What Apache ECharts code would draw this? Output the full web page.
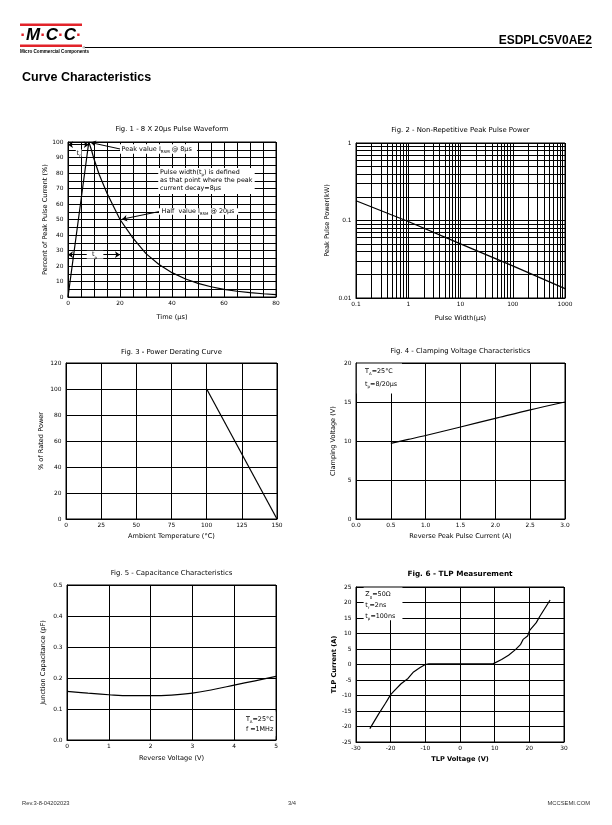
<!DOCTYPE html>
<html><head><meta charset="utf-8">
<script src="https://cdn.jsdelivr.net/npm/echarts@6/dist/echarts.min.js"></script>
<style>html,body{margin:0;padding:0;background:#fff}#c{width:612px;height:825px}</style>
</head><body><div id="c"></div>
<script>
// ---------- data ----------
const fig1Time = [0, 8, 9, 10, 12, 15, 20, 25, 30, 35, 40, 45, 50, 55, 60, 65, 70, 75, 80];
const fig1Pct  = [0, 100, 95, 89, 79, 67, 50, 38, 28, 21, 15.7, 11.8, 8.8, 6.6, 4.9, 3.7, 2.8, 2.1, 1.5];

const fig2Width = [0.1, 1, 10, 100, 1000];
const fig2Power = [0.18, 0.097, 0.05, 0.026, 0.0132];
const fig2XDecades = [0.1, 1, 10, 100];
const fig2YDecades = [0.01, 0.1];

const fig3Temp = [100, 150];
const fig3Pct  = [100, 0];

const fig4Current = [0.5, 0.75, 1.0, 1.5, 2.0, 2.5, 3.0];
const fig4Voltage = [9.7, 10.2, 10.7, 11.8, 12.9, 14.0, 15.0];

const fig5Voltage = [0, 0.5, 1, 1.5, 2, 2.5, 3, 3.5, 4, 4.5, 5];
const fig5Cap     = [0.157, 0.151, 0.146, 0.143, 0.143, 0.145, 0.151, 0.163, 0.177, 0.191, 0.205];

const fig6Voltage = [-26, -23.5, -21.5, -20, -19, -17, -15, -13.4, -11.5, -10, -9, 0, 9.5, 10, 12, 14, 16, 17.5, 18.2, 19.5, 20.1, 22, 23, 26];
const fig6Current = [-20.7, -16, -12.5, -9.7, -8.5, -6.2, -4.5, -2.4, -1, 0, 0.2, 0.2, 0.2, 0.6, 1.6, 3, 4.8, 6.5, 8.1, 9.2, 11, 13.5, 15.5, 20.8];

const titles = [
  'Fig. 1 - 8 X 20\u00b5s Pulse Waveform',
  'Fig. 2 - Non-Repetitive Peak Pulse Power',
  'Fig. 3 - Power Derating Curve',
  'Fig. 4 - Clamping Voltage Characteristics',
  'Fig. 5 - Capacitance Characteristics',
  'Fig. 6 - TLP Measurement'
];
const xNames = ['Time (\u00b5s)', 'Pulse Width(\u00b5s)', 'Ambient Temperature (\u00b0C)', 'Reverse Peak Pulse Current (A)', 'Reverse Voltage (V)', 'TLP Voltage (V)'];
const yNames = ['Percent of Peak Pulse Current (%)', 'Peak Pulse Power(kW)', '% of Rated Power', 'Clamping Voltage (V)', 'Junction Capacitance (pF)', 'TLP Current (A)'];

// ---------- layout ----------
const grids = [
  {left: 68, top: 142, width: 208, height: 155},
  {left: 356, top: 143, width: 209, height: 155},
  {left: 66, top: 363, width: 211, height: 156},
  {left: 356, top: 363, width: 209, height: 156},
  {left: 67, top: 585, width: 209, height: 155},
  {left: 356, top: 587, width: 208, height: 155}
];
const titleY = [129, 130, 352, 351, 573, 574];
const xGap = [16.5, 16.5, 14, 14, 14.5, 14];
const yGap = [19.5, 25, 21.5, 19, 20.5, 18];

const F = 'DejaVu Sans';
const zip = (a, b) => a.map((v, i) => [v, b[i]]);
function merge(a, b) {
  const o = Object.assign({}, a);
  for (const k in b) {
    if (b[k] && typeof b[k] === 'object' && !Array.isArray(b[k]) && a[k] && typeof a[k] === 'object') o[k] = merge(a[k], b[k]);
    else o[k] = b[k];
  }
  return o;
}
const black = {color: '#000', width: 1};
function axis(i, dim, extra) {
  const isX = dim === 'x';
  return merge({
    gridIndex: i, type: 'value',
    axisLine: {show: true, onZero: false, lineStyle: black},
    axisTick: {show: false},
    splitLine: {show: true, lineStyle: black},
    axisLabel: {color: '#000', fontFamily: F, fontSize: 5.9, margin: isX ? 3 : 4.5},
    name: isX ? xNames[i] : yNames[i],
    nameLocation: 'middle',
    nameGap: isX ? xGap[i] : yGap[i],
    nameTextStyle: {color: '#000', fontFamily: F, fontSize: 6.6, fontWeight: i === 5 ? 'bold' : 'normal'}
  }, extra || {});
}
const logFmt = v => String(parseFloat((+v).toPrecision(3)));

const xAxes = [
  axis(0, 'x', {min: 0, max: 80, interval: 5, axisLabel: {formatter: v => (v % 20 === 0 ? String(v) : '')}}),
  axis(1, 'x', {type: 'log', logBase: 10, min: 0.1, max: 1000, axisLabel: {formatter: logFmt}}),
  axis(2, 'x', {min: 0, max: 150, interval: 25}),
  axis(3, 'x', {min: 0, max: 3, interval: 0.5, axisLabel: {formatter: v => v.toFixed(1)}}),
  axis(4, 'x', {min: 0, max: 5, interval: 1}),
  axis(5, 'x', {min: -30, max: 30, interval: 10})
];
const yAxes = [
  axis(0, 'y', {min: 0, max: 100, interval: 5, axisLabel: {formatter: v => (v % 10 === 0 ? String(v) : '')}}),
  axis(1, 'y', {type: 'log', logBase: 10, min: 0.01, max: 1, axisLabel: {formatter: logFmt}}),
  axis(2, 'y', {min: 0, max: 120, interval: 20}),
  axis(3, 'y', {min: 0, max: 20, interval: 5}),
  axis(4, 'y', {min: 0, max: 0.5, interval: 0.1, axisLabel: {formatter: v => v.toFixed(1)}}),
  axis(5, 'y', {min: -25, max: 25, interval: 5})
];

const minorX = [], minorY = [];
fig2XDecades.forEach(d => { for (let k = 2; k <= 9; k++) minorX.push({xAxis: +(d * k).toPrecision(3)}); });
fig2YDecades.forEach(d => { for (let k = 2; k <= 9; k++) minorY.push({yAxis: +(d * k).toPrecision(3)}); });

function lineSeries(i, data, extra) {
  return Object.assign({
    type: 'line', xAxisIndex: i, yAxisIndex: i, data: data,
    symbol: 'none', smooth: false, silent: true,
    lineStyle: {color: '#000', width: 1.2}, z: 5
  }, extra || {});
}
const arrowML = (a, b, sa, sb) => [{coord: a, symbol: sa}, {coord: b, symbol: sb}];

const series = [
  lineSeries(0, zip(fig1Time, fig1Pct), {
    markLine: {
      silent: true, animation: false, symbolSize: 5,
      lineStyle: {color: '#000', width: 1, type: 'solid'}, label: {show: false},
      data: [
        arrowML([0, 98.3], [8, 98.3], 'arrow', 'arrow'),
        arrowML([0, 27.3], [20, 27.3], 'arrow', 'arrow'),
        arrowML([20, 95.5], [8.8, 99.6], 'none', 'arrow'),
        arrowML([35, 55.1], [20.8, 50.2], 'none', 'arrow')
      ]
    }
  }),
  lineSeries(1, zip(fig2Width, fig2Power), {
    markLine: {
      silent: true, animation: false, symbol: 'none',
      lineStyle: {color: '#000', width: 1, type: 'solid'}, label: {show: false},
      emphasis: {disabled: true},
      data: minorX.concat(minorY)
    }
  }),
  lineSeries(2, zip(fig3Temp, fig3Pct)),
  lineSeries(3, zip(fig4Current, fig4Voltage), {smooth: 0.3}),
  lineSeries(4, zip(fig5Voltage, fig5Cap), {smooth: 0.4}),
  lineSeries(5, zip(fig6Voltage, fig6Current))
];

const option = {
  animation: false,
  backgroundColor: '#fff',
  grid: grids.map(g => Object.assign({show: true, borderColor: '#000', borderWidth: 1, backgroundColor: 'transparent', containLabel: false}, g)),
  xAxis: xAxes,
  yAxis: yAxes,
  series: series
};

const chart = echarts.init(document.getElementById('c'), null, {renderer: 'canvas'});
chart.setOption(option);

// ---------- annotations & page furniture ----------
const P = (gi, x, y) => chart.convertToPixel({gridIndex: gi}, [x, y]);
const G = [];
const RED = '#e2232a';
function txt(x, y, text, o) {
  o = o || {};
  G.push({type: 'text', x: x, y: y, z: o.z || 30, style: {
    text: text, fill: o.color || '#000', align: o.align || 'left', verticalAlign: o.va || 'middle',
    font: (o.style || '') + ' ' + (o.weight || 'normal') + ' ' + (o.size || 6) + 'px "' + (o.family || F) + '"',
    rich: o.rich, backgroundColor: o.bg, padding: o.pad
  }});
}
function box(gi, x0, y0, x1, y1) {
  const a = P(gi, x0, y0), b = P(gi, x1, y1);
  G.push({type: 'rect', z: 20, shape: {x: Math.min(a[0], b[0]), y: Math.min(a[1], b[1]), width: Math.abs(b[0] - a[0]), height: Math.abs(b[1] - a[1])}, style: {fill: '#fff'}});
}
const rich = fs => ({
  n: {fontSize: fs, fontFamily: F, fill: '#000', lineHeight: fs * 1.5},
  s: {fontSize: fs * 0.62, fontFamily: F, fill: '#000', verticalAlign: 'bottom', lineHeight: fs * 1.2}
});
function dtxt(gi, x, y, text, fs, extra) {
  const p = P(gi, x, y);
  txt(p[0], p[1], text, Object.assign({rich: rich(fs || 6), size: fs || 6}, extra || {}));
}

// figure titles
titles.forEach((t, i) => {
  const g = grids[i];
  txt(g.left + g.width / 2, titleY[i], t, {align: 'center', size: i === 5 ? 7.3 : 6.9, weight: i === 5 ? 'bold' : 'normal'});
});

// Fig 1 annotations
box(0, 20, 98.6, 49.6, 92.4);
dtxt(0, 20.6, 95.5, '{n|Peak value I}{s|RSM}{n| @ 8\u00b5s}', 6.5);
box(0, 34.7, 83.2, 71.8, 66.5);
dtxt(0, 35.4, 80.6, '{n|Pulse width(t}{s|p}{n|) is defined}', 6.4);
dtxt(0, 35.4, 75.2, '{n|as that point where the peak}', 6.4);
dtxt(0, 35.4, 69.8, '{n|current decay=8\u00b5s}', 6.4);
box(0, 35, 57.2, 65.5, 53.0);
dtxt(0, 36, 55.1, '{n|Half  value I}{s|RSM}{n| @ 20\u00b5s}', 6.4);
box(0, 3.0, 95.2, 5.2, 90.6);
dtxt(0, 3.3, 93, '{n|t}{s|r}', 6.6);
box(0, 7.2, 29.8, 13.6, 24.8);
dtxt(0, 9.2, 27.3, '{n|t}{s|p}', 6.6);

// Fig 4 box
box(3, 0.012, 19.93, 0.66, 16.1);
dtxt(3, 0.13, 18.9, '{n|T}{s|A}{n|=25\u00b0C}', 6.4);
dtxt(3, 0.13, 17.3, '{n|t}{s|p}{n|=8/20\u00b5s}', 6.4);

// Fig 5 box
box(4, 4.2, 0.092, 4.985, 0.012);
dtxt(4, 4.28, 0.066, '{n|T}{s|A}{n|=25\u00b0C}', 6.4);
dtxt(4, 4.28, 0.033, '{n|f =1MHz}', 6.4);

// Fig 6 box
box(5, -27.8, 24.85, -16.6, 14.3);
dtxt(5, -27.3, 22.5, '{n|Z}{s|0}{n|=50\u03a9}', 6.4);
dtxt(5, -27.3, 19.1, '{n|t}{s|r}{n|=2ns}', 6.4);
dtxt(5, -27.3, 15.6, '{n|t}{s|p}{n|=100ns}', 6.4);

// header
G.push({type: 'rect', z: 30, shape: {x: 20, y: 23.5, width: 62, height: 2.5}, style: {fill: RED}});
G.push({type: 'rect', z: 30, shape: {x: 20, y: 44.5, width: 62, height: 2.5}, style: {fill: RED}});
G.push({type: 'text', x: 51, y: 35.5, z: 30, style: {
  text: '{r|\u00b7}{b|M}{r|\u00b7}{b|C}{r|\u00b7}{b|C}{r|\u00b7}', align: 'center', verticalAlign: 'middle',
  rich: {
    b: {font: 'italic bold 17px "Liberation Sans"', fill: '#000'},
    r: {font: 'bold 17px "Liberation Sans"', fill: RED}
  }
}});
txt(20, 51.5, 'Micro Commercial Components', {size: 4.6, weight: 'bold', family: 'Liberation Sans'});
txt(82.5, 48, '\u00ae', {size: 3.5, family: 'Liberation Sans'});
G.push({type: 'line', z: 30, shape: {x1: 85, y1: 47.5, x2: 592, y2: 47.5}, style: {stroke: '#000', lineWidth: 1}});
txt(592, 41, 'ESDPLC5V0AE2', {align: 'right', size: 12, weight: 'bold', family: 'Liberation Sans'});
txt(22, 78, 'Curve Characteristics', {size: 12.5, weight: 'bold', family: 'Liberation Sans'});

// footer
txt(22, 803, 'Rev.3-8-04202023', {size: 5.8, family: 'Liberation Sans', color: '#333'});
txt(292, 803, '3/4', {size: 5.8, family: 'Liberation Sans', color: '#333', align: 'center'});
txt(590, 803, 'MCCSEMI.COM', {size: 5.8, family: 'Liberation Sans', color: '#333', align: 'right'});

chart.setOption({graphic: {elements: G}});
</script>
</body></html>
